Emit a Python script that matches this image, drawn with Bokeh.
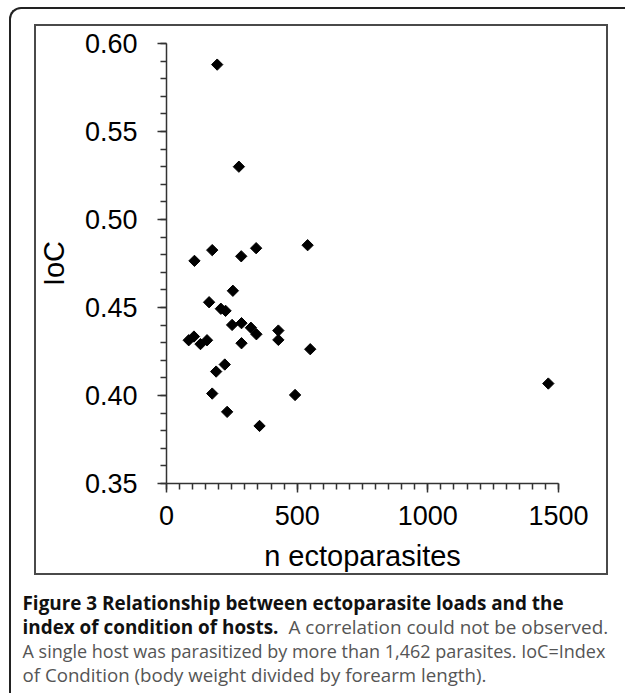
import numpy as np
from bokeh.plotting import figure
from bokeh.layouts import column
from bokeh.models import (Range1d, Label, FixedTicker, NumeralTickFormatter,
                          InlineStyleSheet)
from bokeh.embed import file_html
from bokeh.resources import INLINE

# ---- data ----
n_ectoparasites = [194, 277, 107, 175, 286, 343, 540, 254, 163, 208, 226,
                   251, 287, 323, 344, 428, 428, 287, 550, 85, 105, 130,
                   155, 223, 190, 175, 492, 232, 356, 1461]
ioc = [0.588, 0.530, 0.4765, 0.4826, 0.4791, 0.4837, 0.4854, 0.4595, 0.4530,
       0.4493, 0.4481, 0.4401, 0.4411, 0.4385, 0.4348, 0.4369, 0.4316, 0.4297,
       0.4263, 0.4314, 0.4335, 0.4292, 0.4314, 0.4176, 0.4136, 0.4011, 0.4003,
       0.3907, 0.3827, 0.4068]

x_ticks = [0, 500, 1000, 1500]
y_ticks = [0.35, 0.40, 0.45, 0.50, 0.55, 0.60]
x_label = "n ectoparasites"
y_label = "IoC"
caption_bold_1 = "Figure 3 Relationship between ectoparasite loads and the"
caption_bold_2 = "index of condition of hosts."
caption_reg_2 = "A correlation could not be observed."
caption_reg_3 = "A single host was parasitized by more than 1,462 parasites. IoC=Index"
caption_reg_4 = "of Condition (body weight divided by forearm length)."

W = 625
H1, H2 = 585, 108

main_css = InlineStyleSheet(css="""
:host { position: relative; }
:host::before { content: ""; position: absolute; left: 9px; top: 7px;
  width: 616px; height: 578px; box-sizing: border-box;
  border-top: 2px solid #222; border-left: 2px solid #222;
  border-top-left-radius: 12px; pointer-events: none; z-index: 5; }
:host::after { content: ""; position: absolute; left: 34px; top: 24px;
  width: 574px; height: 551px; box-sizing: border-box;
  border: 2px solid #4a4a4a; pointer-events: none; z-index: 5; }
""")
cap_css = InlineStyleSheet(css="""
:host { position: relative; }
:host::before { content: ""; position: absolute; left: 9px; top: 0px;
  width: 20px; height: 108px; box-sizing: border-box;
  border-left: 2px solid #222; pointer-events: none; z-index: 5; }
""")

p = figure(width=W, height=H1, output_backend="svg", toolbar_location=None,
           x_range=Range1d(0, 1500), y_range=Range1d(0.35, 0.60),
           min_border_left=166, min_border_right=67,
           min_border_top=43, min_border_bottom=H1 - 483,
           stylesheets=[main_css])
p.grid.visible = False
p.outline_line_color = None
p.background_fill_color = "white"
p.border_fill_color = "white"

x_minor = [i * 50 for i in range(0, 31)]
y_minor = [round(0.35 + 0.01 * i, 2) for i in range(0, 26)]
p.xaxis.ticker = FixedTicker(ticks=x_ticks, minor_ticks=x_minor)
p.yaxis.ticker = FixedTicker(ticks=y_ticks, minor_ticks=y_minor)
p.yaxis.formatter = NumeralTickFormatter(format="0.00")

for ax in (p.xaxis, p.yaxis):
    ax.axis_line_color = "#333333"
    ax.axis_line_width = 1.5
    ax.major_tick_line_color = "#333333"
    ax.minor_tick_line_color = "#333333"
    ax.major_tick_line_width = 1.5
    ax.minor_tick_line_width = 1.5
    ax.major_tick_in = 0
    ax.major_tick_out = 9
    ax.minor_tick_in = 0
    ax.minor_tick_out = 6
    ax.major_label_text_font = "Liberation Sans"
    ax.major_label_text_font_size = "27px"
    ax.major_label_text_color = "black"
    ax.axis_label_text_font = "Liberation Sans"
    ax.axis_label_text_font_size = "29px"
    ax.axis_label_text_font_style = "normal"
    ax.axis_label_text_color = "black"

p.xaxis.axis_label = x_label
p.yaxis.axis_label = y_label
p.xaxis.major_label_standoff = 13
p.yaxis.major_label_standoff = 20
p.xaxis.axis_label_standoff = 12
p.yaxis.axis_label_standoff = 12

p.scatter(n_ectoparasites, ioc, marker="square", size=8, angle=np.pi / 4,
          color="black")

# ---- caption figure (pixel coordinates, y down) ----
c = figure(width=W, height=H2, output_backend="svg", toolbar_location=None,
           x_range=Range1d(0, W), y_range=Range1d(H2, 0),
           x_axis_location=None, y_axis_location=None, min_border=0,
           stylesheets=[cap_css])
c.grid.visible = False
c.outline_line_color = None
c.background_fill_color = "white"
c.border_fill_color = "white"

for fig in (p, c):
    if "frame_align" in fig.properties():
        fig.frame_align = False

def cap(txt, x, y, bold, color, size):
    c.add_layout(Label(x=x, y=y, text=txt, text_font="Open Sans",
                       text_font_size=size,
                       text_font_style="bold" if bold else "normal",
                       text_color=color, text_baseline="alphabetic"))

cap(caption_bold_1, 22, 17, True, "#111111", "18.9px")
cap(caption_bold_2, 22, 41, True, "#111111", "18.9px")
cap(caption_reg_2, 288, 41, False, "#555555", "18.9px")
cap(caption_reg_3, 22, 65, False, "#555555", "18px")
cap(caption_reg_4, 22, 89, False, "#555555", "18.7px")

layout = column(p, c, spacing=0)
open("out.html", "w").write(file_html(layout, INLINE))
